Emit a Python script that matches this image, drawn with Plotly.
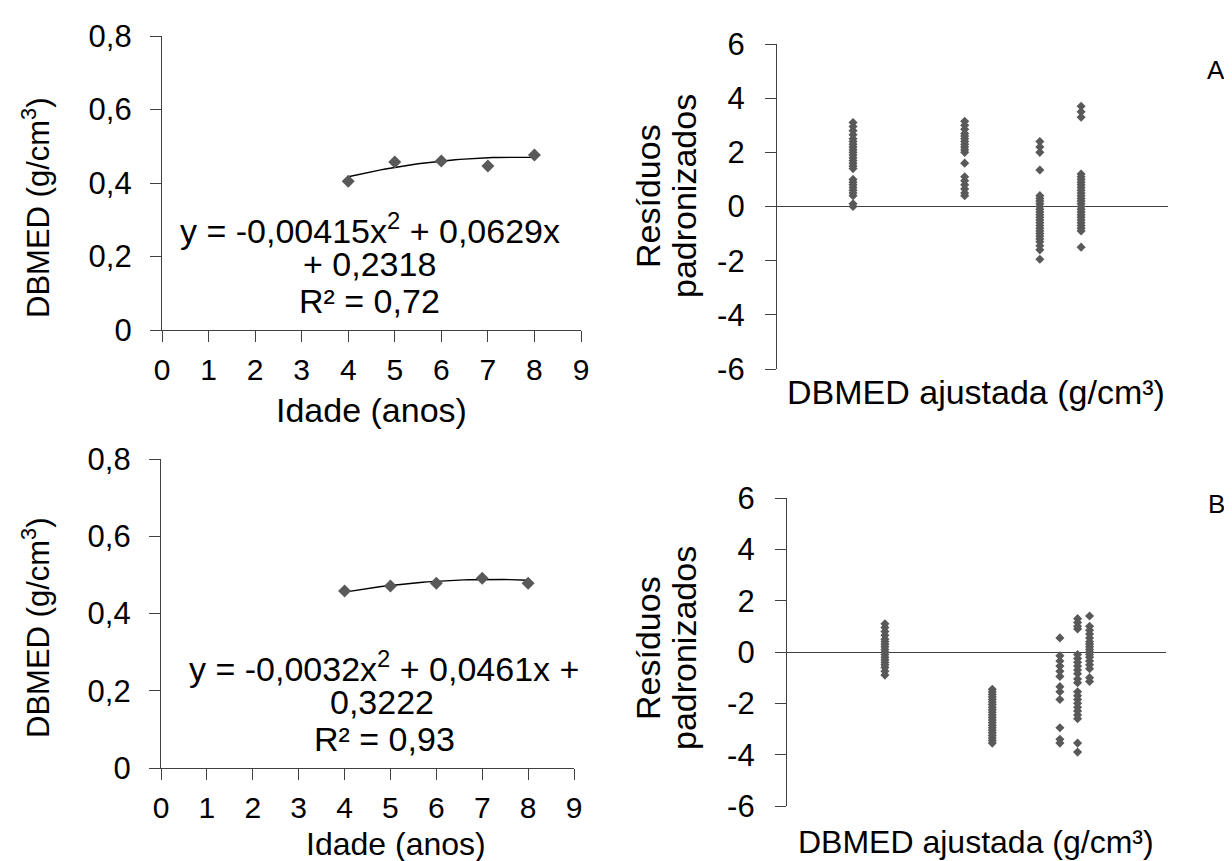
import numpy as np
import plotly.graph_objects as go

# ---------------- data ----------------
ages = [4, 5, 6, 7, 8]
age_ticks = list(range(10))
dbmed_A = [0.405, 0.457, 0.460, 0.446, 0.476]
dbmed_B = [0.458, 0.471, 0.478, 0.491, 0.478]
coef_A = [-0.00415, 0.0629, 0.2318]
coef_B = [-0.0032, 0.0461, 0.3222]
dens_ticks = [0, 0.2, 0.4, 0.6, 0.8]
dens_ticktext = ["0", "0,2", "0,4", "0,6", "0,8"]
res_ticks = [-6, -4, -2, 0, 2, 4, 6]
res_ticktext = ["-6", "-4", "-2", "0", "2", "4", "6"]

# fitted DBMED (x) of each residual column and the standardized residuals
fit_A = [0.4175, 0.4432, 0.4605, 0.4700]
res_A = [
    [3.1, 2.95, 2.8, 2.65, 2.5, 2.4, 2.3, 2.2, 2.1, 2.0, 1.9, 1.8, 1.7, 1.6, 1.5, 1.4,
     1.0, 0.9, 0.8, 0.7, 0.6, 0.5, 0.4, 0.1, 0.0],
    [3.15, 3.0, 2.85, 2.7, 2.6, 2.5, 2.4, 2.3, 2.2, 2.1, 2.0, 1.6, 1.1, 0.95, 0.8, 0.65,
     0.5, 0.4],
    [2.4, 2.2, 2.0, 1.35, 0.4, 0.3, 0.2, 0.1, 0.0, -0.1, -0.2, -0.3, -0.4, -0.5, -0.6,
     -0.7, -0.8, -0.9, -1.0, -1.1, -1.2, -1.3, -1.45, -1.6, -1.95],
    [3.7, 3.5, 3.3, 1.2, 1.1, 1.0, 0.9, 0.8, 0.7, 0.6, 0.5, 0.4, 0.3, 0.2, 0.1, 0.0,
     -0.1, -0.2, -0.3, -0.4, -0.5, -0.6, -0.7, -0.8, -0.9, -1.5],
]
fit_B = [0.4555, 0.4725, 0.4832, 0.4860, 0.4879]
res_B = [
    [1.1, 0.95, 0.8, 0.65, 0.5, 0.4, 0.3, 0.2, 0.1, 0.0, -0.1, -0.2, -0.3, -0.4, -0.5,
     -0.6, -0.75, -0.9],
    [-1.45, -1.55, -1.65, -1.75, -1.85, -1.95, -2.05, -2.15, -2.25, -2.35, -2.45, -2.55,
     -2.65, -2.75, -2.85, -2.95, -3.05, -3.15, -3.25, -3.35, -3.45, -3.55],
    [0.55, -0.15, -0.35, -0.55, -0.75, -0.95, -1.35, -1.55, -1.85, -2.95, -3.4, -3.55],
    [1.3, 1.15, 1.0, 0.9, -0.1, -0.25, -0.4, -0.55, -0.7, -0.85, -1.05, -1.2, -1.55,
     -1.7, -1.85, -2.0, -2.15, -2.3, -2.45, -2.6, -3.55, -3.9],
    [1.4, 1.0, 0.85, 0.7, 0.55, 0.4, 0.3, 0.2, 0.1, 0.0, -0.1, -0.2, -0.35, -0.5, -0.65,
     -1.0, -1.15],
]

# ---------------- figure ----------------
W, H = 1232, 861
FONT = "Liberation Sans, Arial, sans-serif"
AXC = "#404040"
MC = "#595959"


def px(p):
    return p / W


def py(p):
    return 1 - p / H


fig = go.Figure()

# left panels: observed points + fitted quadratic
for coef, obs, xa, ya in [(coef_A, dbmed_A, "x", "y"), (coef_B, dbmed_B, "x3", "y3")]:
    xs = np.linspace(min(ages), max(ages), 41)
    fig.add_trace(go.Scatter(x=xs, y=np.polyval(coef, xs), mode="lines",
                             line=dict(color="black", width=1.4),
                             xaxis=xa, yaxis=ya, showlegend=False, hoverinfo="skip"))
    fig.add_trace(go.Scatter(x=ages, y=obs, mode="markers",
                             marker=dict(symbol="diamond", size=10, color=MC),
                             xaxis=xa, yaxis=ya, showlegend=False))

# right panels: residuals
for fits, res, xa, ya in [(fit_A, res_A, "x2", "y2"), (fit_B, res_B, "x4", "y4")]:
    xv, yv = [], []
    for f, col in zip(fits, res):
        xv += [f] * len(col)
        yv += col
    fig.add_trace(go.Scatter(x=xv, y=yv, mode="markers",
                             marker=dict(symbol="diamond", size=7, color=MC),
                             xaxis=xa, yaxis=ya, showlegend=False))

tickfont = dict(family=FONT, size=31, color="black")
xtickfont = dict(family=FONT, size=30, color="black")


def left_x(dom, anchor):
    return dict(domain=dom, range=[0, 9], tickvals=age_ticks, ticks="outside",
                ticklen=11, tickwidth=1.2, tickcolor=AXC, showline=True,
                linecolor=AXC, linewidth=1.2, showgrid=False, zeroline=False,
                tickfont=xtickfont, ticklabelstandoff=2, anchor=anchor)


def left_y(dom, anchor):
    return dict(domain=dom, range=[0, 0.8], tickvals=dens_ticks,
                ticktext=dens_ticktext, ticks="outside", ticklen=11, tickwidth=1.2,
                tickcolor=AXC, showline=True, linecolor=AXC, linewidth=1.2,
                showgrid=False, zeroline=False, tickfont=tickfont,
                ticklabelstandoff=12, anchor=anchor)


def right_x(dom, rng, anchor):
    return dict(domain=dom, range=rng, visible=False, anchor=anchor)


def right_y(dom, anchor):
    return dict(domain=dom, range=[-6, 6], tickvals=res_ticks, ticktext=res_ticktext,
                ticks="outside", ticklen=11, tickwidth=1.2, tickcolor=AXC,
                showline=True, linecolor=AXC, linewidth=1.2, showgrid=False,
                zeroline=True, zerolinecolor=AXC, zerolinewidth=1.2, tickfont=tickfont,
                ticklabelstandoff=14, anchor=anchor)


fig.update_layout(
    width=W, height=H,
    margin=dict(l=0, r=0, t=0, b=0, autoexpand=False),
    paper_bgcolor="white", plot_bgcolor="white",
    font=dict(family=FONT, color="black"),
    xaxis=left_x([px(154), px(573)], "y"),
    yaxis=left_y([py(322), py(28)], "x"),
    xaxis2=right_x([px(769), px(1160)], [0.40, 0.49], "y2"),
    yaxis2=right_y([py(361), py(36)], "x2"),
    xaxis3=left_x([px(153), px(566)], "y3"),
    yaxis3=left_y([py(760), py(451)], "x3"),
    xaxis4=right_x([px(779), px(1158)], [0.44, 0.50], "y4"),
    yaxis4=right_y([py(798), py(490)], "x4"),
)

anns = []


def txt(text, x, y, size=34, angle=0, xanchor="center"):
    anns.append(dict(text=text, x=px(x), y=py(y), xref="paper", yref="paper",
                     showarrow=False, textangle=angle, xanchor=xanchor,
                     yanchor="middle", font=dict(family=FONT, size=size, color="black")))


# axis titles
txt("DBMED (g/cm<sup>3</sup>)", 28, 200, size=31, angle=-90)
txt("DBMED (g/cm<sup>3</sup>)", 28, 620, size=31, angle=-90)
txt("Idade (anos)", 363, 402)
txt("Idade (anos)", 388, 836, size=32)
txt("Resíduos", 640, 188, angle=-90)
txt("padronizados", 676, 188, angle=-90)
txt("Resíduos", 640, 640, angle=-90)
txt("padronizados", 676, 640, angle=-90)
txt("DBMED ajustada (g/cm³)", 968, 384)
txt("DBMED ajustada (g/cm³)", 968, 834, size=32)

# equations
txt("y = -0,00415x<sup>2</sup> + 0,0629x", 362, 220)
txt("+ 0,2318", 361, 256)
txt("R² = 0,72", 361, 293)
txt("y = -0,0032x<sup>2</sup> + 0,0461x +", 376, 658)
txt("0,3222", 374, 694)
txt("R² = 0,93", 376, 731)

# panel labels
txt("A", 1208, 62, size=26)
txt("B", 1208, 496, size=26)

fig.update_layout(annotations=anns)
fig.write_html("out.html")
